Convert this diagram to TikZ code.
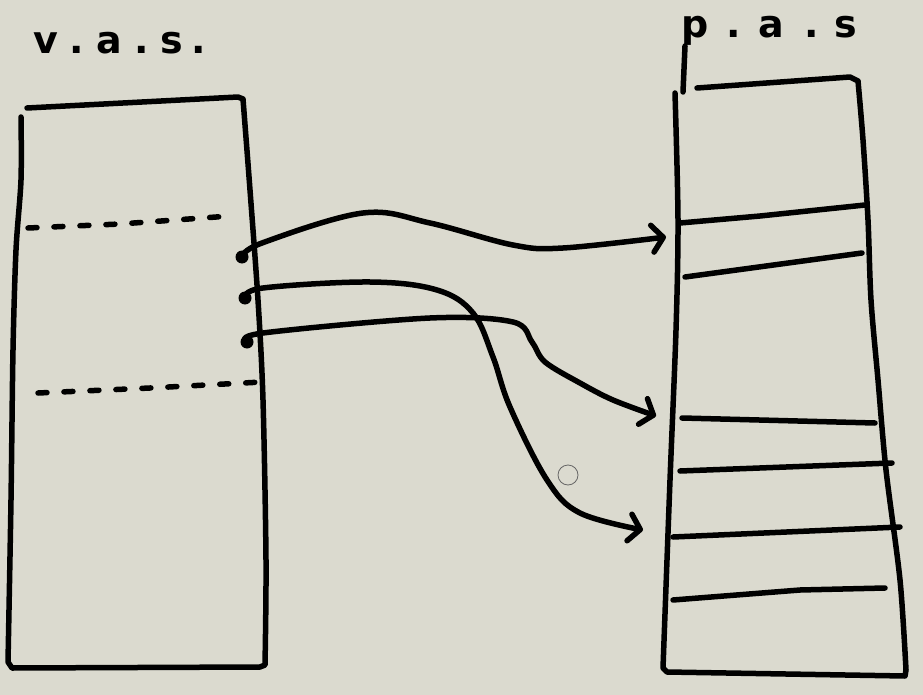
\documentclass[tikz,border=0pt]{standalone}
\usepackage{fontspec}
\newfontfamily\handfont{DejaVu Sans}
\usetikzlibrary{arrows.meta}
\definecolor{bgcol}{RGB}{219,218,207}
\begin{document}
\begin{tikzpicture}[x=1pt,y=-1pt,
  ink/.style={line width=5.5pt, line cap=round, line join=round, black},
  dashline/.style={ink, dash pattern=on 9pt off 17pt},
  conn/.style={ink, -{Straight Barb[length=11pt,width=27pt,round]}},
  dotnode/.style={circle, fill=black, inner sep=0pt, minimum size=13pt},
  label/.style={anchor=base west, inner sep=0pt, font=\handfont\bfseries\fontsize{38}{40}\selectfont}]
\fill[bgcol] (0,0) rectangle (923,695);
\useasboundingbox (0,0) rectangle (923,695);
% labels
\node[label] (vas) at (33,54) {v\hspace{12pt}.\hspace{12pt}a\hspace{12pt}.\hspace{12pt}s\hspace{8pt}.};
\node[label] (pas) at (681,38) {p\hspace{18pt}.\hspace{18pt}a\hspace{20pt}.\hspace{16pt}s};
\draw[ink] (pas.base west) ++(4,8) -- (683,92);
% left box (virtual address space)
\draw[ink] (27,108) -- (238,97) -- (243,99)
  plot[smooth, tension=0.5] coordinates {(243,99) (250,190) (258,300) (263,400) (266,560) (265,665)}
  -- (260,667) -- (12,668) -- (8,662)
  plot[smooth, tension=0.5] coordinates {(8,662) (11,500) (13,350) (16,250) (21,180) (21,117)};
\draw[dashline] (28,228) -- (120,224) -- (230,216);
\draw[dashline] (38,393) -- (150,388) -- (262,382);
% right box (physical address space)
\draw[ink] (697,88) -- (850,77) -- (858,81)
  plot[smooth, tension=0.5] coordinates {(858,81) (863,140) (868,220) (871,300) (878,380) (886,470) (900,580) (906,670)}
  -- (905,676) -- (667,672) -- (663,668)
  plot[smooth, tension=0.5] coordinates {(663,668) (670,480) (676,330) (678,220) (675,93)};
\draw[ink] (680,223) -- (760,216) -- (865,205);
\draw[ink] (685,277) -- (862,253);
\draw[ink] (682,418) -- (875,423);
\draw[ink] (680,471) -- (892,463);
\draw[ink] (673,537) -- (900,527);
\draw[ink] (673,600) -- (800,590) -- (885,588);
% pages in virtual space
\node[dotnode] (d1) at (242,257) {};
\node[dotnode] (d2) at (245,298) {};
\node[dotnode] (d3) at (247,342) {};
% arrow targets
\coordinate (t1) at (666,237);
\coordinate (t2) at (643,530);
\coordinate (t3) at (656,416);
% connectors
\draw[conn] plot[smooth, tension=0.6] coordinates {(d1.center) (262,243) (363,213) (430,223) (513,245) (563,248) (t1)};
\draw[conn] plot[smooth, tension=0.6] coordinates {(d2.center) (263,288) (370,282) (437,290) (473,313) (493,357) (510,407) (547,480) (580,513) (t2)};
\draw[conn] plot[smooth, tension=0.55] coordinates {(d3.center) (263,333) (430,318) (513,322) (532,342) (545,362) (580,383) (613,400) (t3)};
% cursor
\node[circle, draw=black!60, line width=0.8pt, minimum size=20pt, inner sep=0pt] (cursor) at (568,475) {};
\end{tikzpicture}
\end{document}
